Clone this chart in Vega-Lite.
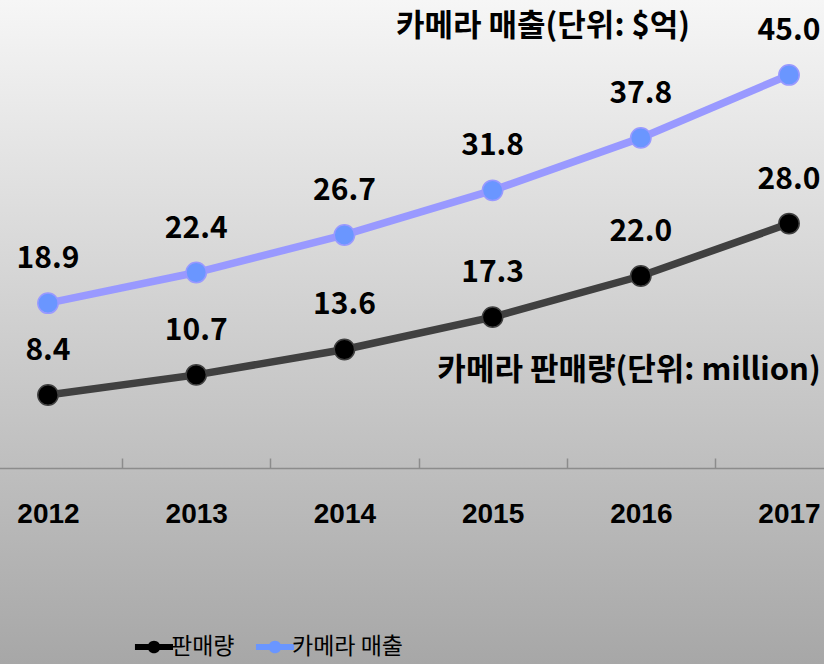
{
  "$schema": "https://vega.github.io/schema/vega-lite/v6.json",
  "width": 824,
  "height": 664,
  "autosize": {"type": "none"},
  "padding": 0,
  "background": "#a8a8a8",
  "config": {"view": {"stroke": null}},
  "datasets": {
    "sales": [
      {"year": "2012", "series": "판매량", "value": 8.4},
      {"year": "2013", "series": "판매량", "value": 10.7},
      {"year": "2014", "series": "판매량", "value": 13.6},
      {"year": "2015", "series": "판매량", "value": 17.3},
      {"year": "2016", "series": "판매량", "value": 22.0},
      {"year": "2017", "series": "판매량", "value": 28.0},
      {"year": "2012", "series": "카메라 매출", "value": 18.9},
      {"year": "2013", "series": "카메라 매출", "value": 22.4},
      {"year": "2014", "series": "카메라 매출", "value": 26.7},
      {"year": "2015", "series": "카메라 매출", "value": 31.8},
      {"year": "2016", "series": "카메라 매출", "value": 37.8},
      {"year": "2017", "series": "카메라 매출", "value": 45.0}
    ],
    "notes": [
      {"year": "2015", "value": 50.5, "text": "카메라 매출(단위: $억)", "shift": 124.5},
      {"year": "2016", "value": 11.15, "text": "카메라 판매량(단위: million)", "shift": 62.3}
    ],
    "bg": [{"k": 1}]
  },
  "layer": [
    {
      "data": {"name": "bg"},
      "mark": {
        "type": "rect",
        "fill": {
          "gradient": "linear", "x1": 0, "y1": 0, "x2": 0, "y2": 1,
          "stops": [{"offset": 0, "color": "#f6f6f6"}, {"offset": 1, "color": "#a7a7a7"}]
        }
      },
      "encoding": {}
    },
    {
      "data": {"name": "sales"},
      "mark": {"type": "line", "strokeWidth": 7.5},
      "encoding": {
        "x": {
          "field": "year", "type": "ordinal",
          "scale": {"type": "band", "range": [-26.1, 863.1], "paddingInner": 0, "paddingOuter": 0},
          "axis": {
            "title": null, "offset": -196, "tickBand": "extent", "tickSize": -10, "zindex": 1,
            "domainColor": "#8c8c8c", "domainWidth": 1.5, "tickColor": "#8c8c8c", "tickWidth": 1.5,
            "labelFont": "Liberation Sans", "labelFontSize": 28, "labelFontWeight": "bold",
            "labelColor": "#000000", "labelPadding": 42, "labelBaseline": "top", "labelAngle": 0
          }
        },
        "y": {
          "field": "value", "type": "quantitative",
          "scale": {"domain": [-22.37, 53.57], "nice": false, "zero": false},
          "axis": null
        },
        "stroke": {
          "field": "series", "type": "nominal",
          "scale": {"domain": ["판매량", "카메라 매출"], "range": ["#404040", "#9999ff"]},
          "legend": null
        }
      }
    },
    {
      "data": {"name": "sales"},
      "mark": {"type": "point", "filled": true, "size": 415, "strokeWidth": 1.5, "opacity": 1},
      "encoding": {
        "x": {"field": "year", "type": "ordinal"},
        "y": {"field": "value", "type": "quantitative"},
        "fill": {
          "field": "series", "type": "nominal", "sort": "descending",
          "scale": {"range": ["#000000", "#6a96ff"]},
          "legend": {
            "title": null, "orient": "none", "direction": "horizontal",
            "legendX": 141, "legendY": 634, "zindex": 2,
            "symbolType": "M-1.5,-0.24H1.5V0.24H-1.5Z M-0.5,0A0.5,0.5 0 1,1 0.5,0A0.5,0.5 0 1,1 -0.5,0Z",
            "symbolSize": 645, "symbolStrokeWidth": 0, "symbolOpacity": 1,
            "labelFont": "Noto Sans CJK KR", "labelFontSize": 23, "labelColor": "#000000",
            "labelOffset": 4, "columnPadding": 20
          }
        },
        "stroke": {
          "condition": {"test": "datum.series === '판매량'", "value": "#404040"},
          "value": "#9999ff"
        }
      }
    },
    {
      "data": {"name": "sales"},
      "mark": {
        "type": "text", "dy": -35, "baseline": "alphabetic", "align": "center",
        "font": "Noto Sans CJK KR", "fontSize": 30, "fontWeight": "bold", "color": "#000000"
      },
      "encoding": {
        "x": {"field": "year", "type": "ordinal"},
        "y": {"field": "value", "type": "quantitative"},
        "text": {"field": "value", "type": "quantitative", "format": ".1f"}
      }
    },
    {
      "data": {"name": "notes"},
      "mark": {
        "type": "text", "baseline": "middle", "align": "center",
        "font": "Noto Sans CJK KR", "fontSize": 31, "fontWeight": "bold", "color": "#000000"
      },
      "encoding": {
        "x": {"field": "year", "type": "ordinal"},
        "y": {"field": "value", "type": "quantitative"},
        "xOffset": {"field": "shift", "type": "quantitative", "scale": null},
        "text": {"field": "text"}
      }
    }
  ]
}
